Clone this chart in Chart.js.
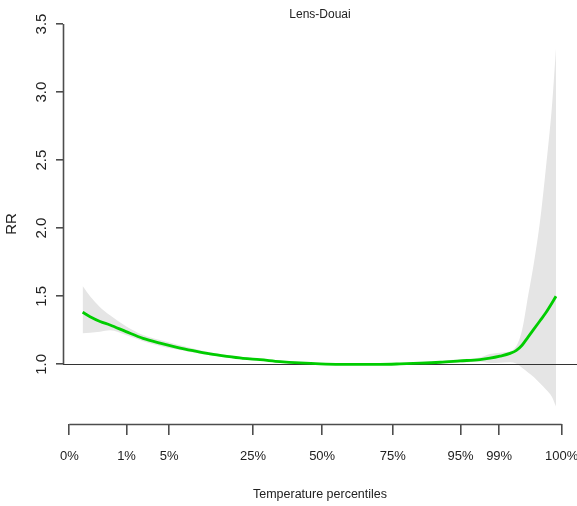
<!DOCTYPE html>
<html><head><meta charset="utf-8">
<script src="https://cdn.jsdelivr.net/npm/chart.js@4.4.1/dist/chart.umd.min.js"></script>
<style>html,body{margin:0;padding:0;background:#fff}canvas{display:block}</style>
</head><body>
<canvas id="c" width="577" height="506"></canvas>
<script>
// ---- data ----
const temperature = [-9.0,-8.44,-7.69,-6.94,-5.74,-4.46,-3.18,-1.91,-0.70,0.57,1.85,3.05,4.33,5.83,7.34,8.84,10.34,11.84,13.35,14.85,16.35,17.86,19.36,20.86,21.61,22.36,23.12,23.57,24.02,24.47,24.92,25.37,25.82,26.27,26.57];
const rr     = [1.382,1.35,1.315,1.289,1.24,1.19,1.155,1.125,1.10,1.076,1.058,1.044,1.034,1.02,1.01,1.003,1.0,1.0,1.0,1.003,1.008,1.015,1.025,1.035,1.045,1.06,1.08,1.10,1.14,1.20,1.26,1.32,1.38,1.45,1.50];
const rrLow  = [1.228,1.232,1.24,1.25,1.215,1.17,1.135,1.108,1.087,1.066,1.048,1.035,1.025,1.013,1.005,1.0,0.997,0.996,0.995,0.997,1.0,1.006,1.012,1.018,1.01,1.012,1.015,1.005,0.975,0.94,0.905,0.86,0.815,0.76,0.69];
const rrHigh = [1.575,1.50,1.42,1.36,1.28,1.215,1.178,1.145,1.116,1.088,1.069,1.054,1.043,1.028,1.016,1.007,1.004,1.005,1.007,1.01,1.016,1.025,1.037,1.05,1.075,1.085,1.095,1.13,1.25,1.50,1.75,2.05,2.45,2.90,3.32];
const xTickValues = [-10.0,-5.7,-2.5,3.8,9.0,14.3,19.4,22.3,27.0];
const xTickLabels = ['0%','1%','5%','25%','50%','75%','95%','99%','100%'];
const yTickValues = [1.0,1.5,2.0,2.5,3.0,3.5];
const refRR = 1.0;

const NARROW = "'Liberation Sans Narrow','Arial Narrow','Liberation Sans',Arial,sans-serif";
const REG = "'Liberation Sans',Arial,sans-serif";
const AXIS_COL = '#4d4d4d';
const TEXT_COL = '#222222';

const pts = (ys) => temperature.map((t, i) => ({x: t, y: ys[i]}));

const rAxes = {
  id: 'rAxes',
  afterDatasetDraw(chart, args) {
    if (args.index !== 1) return;
    const {ctx, chartArea} = chart;
    const y = Math.round(chart.scales.y.getPixelForValue(refRR)) + 0.5;
    ctx.save();
    ctx.strokeStyle = '#333333';
    ctx.lineWidth = 1.2;
    ctx.beginPath();
    ctx.moveTo(chartArea.left, y);
    ctx.lineTo(chartArea.right, y);
    ctx.stroke();
    ctx.restore();
  },
  afterDraw(chart) {
    const {ctx, chartArea, scales} = chart;
    ctx.save();
    ctx.strokeStyle = AXIS_COL;
    ctx.lineWidth = 1.6;
    ctx.beginPath();
    const xb = chartArea.bottom + 0.5;
    ctx.moveTo(scales.x.getPixelForValue(xTickValues[0]), xb);
    ctx.lineTo(scales.x.getPixelForValue(xTickValues[xTickValues.length - 1]), xb);
    const yl = chartArea.left + 0.5;
    ctx.moveTo(yl, scales.y.getPixelForValue(yTickValues[0]));
    ctx.lineTo(yl, scales.y.getPixelForValue(yTickValues[yTickValues.length - 1]));
    ctx.stroke();
    ctx.restore();
  }
};

new Chart(document.getElementById('c'), {
  type: 'line',
  data: {
    datasets: [
      {
        label: 'RR', data: pts(rr), borderColor: '#00CD00', borderWidth: 2.8,
        pointRadius: 0, fill: false, cubicInterpolationMode: 'monotone'
      },
      {
        label: 'upper', data: pts(rrHigh), borderWidth: 0, borderColor: 'rgba(0,0,0,0)',
        backgroundColor: '#e5e5e5', pointRadius: 0, fill: '+1', cubicInterpolationMode: 'monotone'
      },
      {
        label: 'lower', data: pts(rrLow), borderWidth: 0, borderColor: 'rgba(0,0,0,0)',
        pointRadius: 0, fill: false, cubicInterpolationMode: 'monotone'
      }
    ]
  },
  options: {
    responsive: false,
    animation: false,
    devicePixelRatio: 1,
    layout: {padding: 0},
    plugins: {
      legend: {display: false},
      tooltip: {enabled: false},
      title: {
        display: true, text: 'Lens-Douai', fullSize: false, color: TEXT_COL,
        font: {family: NARROW, size: 12, weight: 'normal'},
        padding: {top: 7.8, bottom: 1.8}
      }
    },
    scales: {
      x: {
        type: 'linear', min: -10.473, max: 28.15,
        afterBuildTicks: (s) => { s.ticks = xTickValues.map(v => ({value: v})); },
        afterFit: (s) => { s.height = 82; s.paddingLeft = 0; s.paddingRight = 0; },
        border: {display: false},
        grid: {display: true, drawOnChartArea: false, drawTicks: true, tickLength: 11, color: AXIS_COL, lineWidth: 1.6},
        ticks: {
          autoSkip: false, maxRotation: 0, minRotation: 0, padding: 13.7, color: TEXT_COL,
          font: {family: NARROW, size: 13},
          callback: (v, i) => xTickLabels[i]
        },
        title: {display: true, text: 'Temperature percentiles', color: TEXT_COL,
          font: {family: NARROW, size: 12.5}, padding: {top: 0, bottom: 3.5}}
      },
      y: {
        type: 'linear', min: 0.5614, max: 3.5,
        afterBuildTicks: (s) => { s.ticks = yTickValues.map(v => ({value: v})); },
        afterFit: (s) => { s.width = 63; s.paddingTop = 0; s.paddingBottom = 0; },
        border: {display: false},
        grid: {display: true, drawOnChartArea: false, drawTicks: true, tickLength: 7, color: AXIS_COL, lineWidth: 1.6},
        ticks: {
          minRotation: 90, maxRotation: 90, crossAlign: 'center', padding: 3.6, color: TEXT_COL,
          font: {family: REG, size: 15},
          callback: (v) => Number(v).toFixed(1)
        },
        title: {display: true, text: 'RR', color: TEXT_COL,
          font: {family: REG, size: 15}, padding: {top: 3, bottom: 0}}
      }
    }
  },
  plugins: [rAxes]
});
</script>
</body></html>
